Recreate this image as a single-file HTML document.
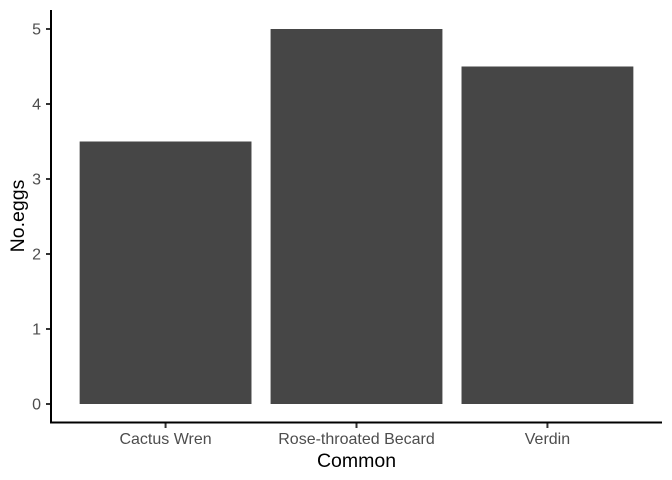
<!DOCTYPE html>
<html><head><meta charset="utf-8">
<style>
html,body{margin:0;padding:0;background:#fff;}
svg{display:block;font-family:"Liberation Sans",Arial,sans-serif;}
</style></head>
<body>
<svg id="chart" width="672" height="480" viewBox="0 0 672 480" xmlns="http://www.w3.org/2000/svg">
<g id="bars"></g>
<g id="yticks"></g>
<g id="xticks"></g>
<line x1="51" y1="10" x2="51" y2="423" stroke="#000" stroke-width="2"/>
<line x1="50" y1="422.5" x2="662" y2="422.5" stroke="#000" stroke-width="2"/>
<text x="356.5" y="467" text-anchor="middle" font-size="19.5" fill="#000">Common</text>
<text transform="translate(24,216) rotate(-90)" text-anchor="middle" font-size="19.5" fill="#000">No.eggs</text>
</svg>
<script>
const categories = ["Cactus Wren", "Rose-throated Becard", "Verdin"];
const values = [3.5, 5, 4.5];
const yTicks = [0, 1, 2, 3, 4, 5];

const NS = "http://www.w3.org/2000/svg";
const pLeft = 51, pRight = 662, pTop = 10.25, pBottom = 422.75;
const yMin = -0.25, yMax = 5.25;
function yScale(v){ return pBottom - (v - yMin) / (yMax - yMin) * (pBottom - pTop); }
const bandW = (pRight - pLeft) / (categories.length - 1 + 1.2);
function xScale(i){ return pLeft + (0.6 + i) * bandW; }
const barW = bandW * 0.9;

const barsG = document.getElementById('bars');
values.forEach((v, i) => {
  const r = document.createElementNS(NS, 'rect');
  
  
  r.setAttribute('x', xScale(i) - barW / 2);
  r.setAttribute('width', barW);
  r.setAttribute('y', yScale(v));
  r.setAttribute('height', yScale(0) - yScale(v));
  r.setAttribute('fill', '#464646');
  barsG.appendChild(r);
});

const ytG = document.getElementById('yticks');
yTicks.forEach(t => {
  const l = document.createElementNS(NS, 'line');
  
  
  l.setAttribute('x1', 46); l.setAttribute('x2', 51);
  l.setAttribute('y1', yScale(t)); l.setAttribute('y2', yScale(t));
  l.setAttribute('stroke', '#333'); l.setAttribute('stroke-width', '2');
  ytG.appendChild(l);
  const tx = document.createElementNS(NS, 'text');
  
  
  tx.setAttribute('x', 41); tx.setAttribute('y', yScale(t) + 5.5);
  tx.setAttribute('text-anchor', 'end'); tx.setAttribute('font-size', '16');
  tx.setAttribute('fill', '#4d4d4d');
  tx.textContent = t;
  ytG.appendChild(tx);
});

const xtG = document.getElementById('xticks');
categories.forEach((c, i) => {
  const l = document.createElementNS(NS, 'line');
  
  
  l.setAttribute('x1', xScale(i)); l.setAttribute('x2', xScale(i));
  l.setAttribute('y1', 423); l.setAttribute('y2', 428);
  l.setAttribute('stroke', '#333'); l.setAttribute('stroke-width', '2');
  xtG.appendChild(l);
  const tx = document.createElementNS(NS, 'text');
  
  
  tx.setAttribute('x', xScale(i)); tx.setAttribute('y', 444);
  tx.setAttribute('text-anchor', 'middle'); tx.setAttribute('font-size', '16');
  tx.setAttribute('fill', '#4d4d4d');
  tx.textContent = c;
  xtG.appendChild(tx);
});
</script>
</body></html>
